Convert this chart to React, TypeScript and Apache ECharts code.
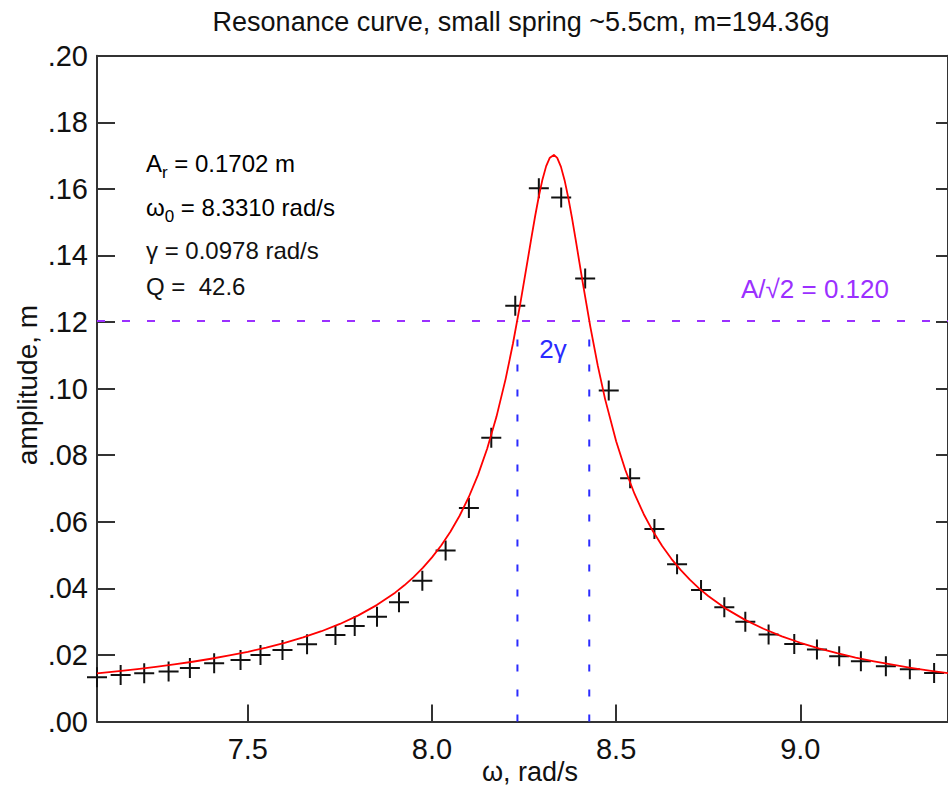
import React, { useEffect, useRef } from "react";
import * as echarts from "echarts";

// Measured data points (omega rad/s, amplitude m)
const omegaData = [7.0905, 7.1547, 7.2187, 7.2849, 7.3427, 7.4086, 7.4802, 7.5344, 7.5941, 7.6608, 7.7379, 7.7902, 7.8507, 7.9104, 7.9738, 8.037, 8.1002, 8.161, 8.2261, 8.2901, 8.3508, 8.4159, 8.4799, 8.538, 8.6039, 8.6654, 8.7305, 8.7937, 8.8507, 8.9139, 8.9836, 9.0452, 9.1056, 9.1645, 9.2323, 9.2974, 9.3633];
const ampData = [0.0133, 0.014, 0.0145, 0.015, 0.0161, 0.0175, 0.0185, 0.02, 0.0215, 0.0232, 0.026, 0.0287, 0.0315, 0.0358, 0.0423, 0.0514, 0.0641, 0.0852, 0.1249, 0.1602, 0.1574, 0.1331, 0.0994, 0.0731, 0.0578, 0.0472, 0.0395, 0.0343, 0.03, 0.0261, 0.0233, 0.0216, 0.0196, 0.0181, 0.0166, 0.0157, 0.0146];

// Fitted curve
const curveOmega = [7.0905, 7.15, 7.2, 7.25, 7.3, 7.35, 7.4, 7.45, 7.5, 7.55, 7.6, 7.65, 7.7, 7.75, 7.8, 7.85, 7.9, 7.925, 7.95, 7.975, 8.0, 8.025, 8.05, 8.075, 8.1, 8.125, 8.15, 8.175, 8.2, 8.22, 8.24, 8.26, 8.27, 8.28, 8.29, 8.3, 8.31, 8.32, 8.331, 8.34, 8.35, 8.36, 8.37, 8.38, 8.39, 8.4, 8.41, 8.43, 8.45, 8.47, 8.5, 8.525, 8.55, 8.575, 8.6, 8.625, 8.65, 8.675, 8.7, 8.725, 8.75, 8.8, 8.85, 8.9, 8.95, 9.0, 9.05, 9.1, 9.15, 9.2, 9.25, 9.3, 9.35, 9.401];
const curveAmp = [0.01445, 0.01513, 0.01574, 0.01641, 0.01714, 0.01795, 0.01885, 0.01984, 0.02095, 0.02221, 0.02362, 0.02525, 0.02712, 0.0293, 0.03188, 0.03496, 0.03871, 0.04091, 0.04337, 0.04614, 0.04929, 0.05288, 0.05702, 0.06181, 0.06744, 0.07409, 0.08201, 0.09151, 0.10293, 0.11362, 0.12568, 0.13873, 0.14535, 0.15177, 0.1577, 0.16284, 0.16683, 0.16937, 0.1702, 0.16929, 0.16668, 0.16261, 0.15738, 0.15134, 0.14482, 0.13809, 0.13138, 0.11854, 0.10697, 0.09684, 0.08417, 0.07554, 0.06834, 0.06227, 0.05712, 0.05269, 0.04887, 0.04553, 0.04259, 0.04, 0.03769, 0.03375, 0.03053, 0.02785, 0.02558, 0.02365, 0.02197, 0.02051, 0.01922, 0.01808, 0.01706, 0.01614, 0.01531, 0.01455];

const halfPowerAmp = 0.1203;
const halfPowerOmega = [8.232, 8.427];
const xRange = [7.0905, 9.401];
const yRange = [0, 0.2];
const xTickValues = [7.5, 8.0, 8.5, 9.0];

const titleText = "Resonance curve, small spring ~5.5cm, m=194.36g";

const FONT = "Liberation Sans, Arial, Helvetica, sans-serif";
const AXIS_COLOR = "#333";
const PURPLE = "#9b30ff";
const BLUE = "#2b2bff";

export default function App() {
  const ref = useRef<HTMLDivElement>(null);
  useEffect(() => {
    if (!ref.current) return;
    const chart = echarts.init(ref.current, null, { renderer: "svg" });
    const points = omegaData.map((w, i) => [w, ampData[i]]);
    const curve = curveOmega.map((w, i) => [w, curveAmp[i]]);
    const plus = "path://M9,0 H11 V9 H20 V11 H11 V20 H9 V11 H0 V9 H9 Z";
    const mainRich = { fontSize: 24, fontFamily: FONT, color: "#111", lineHeight: 36, verticalAlign: "middle" };
    const subRich = { fontSize: 17, fontFamily: FONT, color: "#111", lineHeight: 36, verticalAlign: "bottom" };
    chart.setOption({
      animation: false,
      backgroundColor: "#fff",
      grid: { left: 97, right: -1, top: 55.7, bottom: 71.5 },
      xAxis: [
        {
          type: "value",
          min: xRange[0],
          max: xRange[1],
          position: "bottom",
          axisLine: { show: true, onZero: false, lineStyle: { color: AXIS_COLOR, width: 2 } },
          axisTick: { show: true, inside: true, length: 17, customValues: xTickValues, lineStyle: { color: AXIS_COLOR, width: 2 } },
          axisLabel: {
            show: true,
            customValues: xTickValues,
            formatter: (v: number) => v.toFixed(1),
            fontSize: 29,
            fontFamily: FONT,
            color: "#111",
            margin: 13,
          },
          splitLine: { show: false },
        },
        {
          type: "value",
          min: xRange[0],
          max: xRange[1],
          position: "top",
          axisLine: { show: true, onZero: false, lineStyle: { color: AXIS_COLOR, width: 2 } },
          axisTick: { show: false },
          axisLabel: { show: false },
          splitLine: { show: false },
        },
      ],
      yAxis: [
        {
          type: "value",
          min: yRange[0],
          max: yRange[1],
          interval: 0.02,
          position: "left",
          axisLine: { show: true, onZero: false, lineStyle: { color: AXIS_COLOR, width: 2 } },
          axisTick: { show: true, inside: true, length: 18, lineStyle: { color: AXIS_COLOR, width: 2 } },
          axisLabel: {
            formatter: (v: number) => v.toFixed(2).replace(/^0/, ""),
            fontSize: 29,
            fontFamily: FONT,
            color: "#111",
            margin: 9,
          },
          splitLine: { show: false },
        },
        {
          type: "value",
          min: yRange[0],
          max: yRange[1],
          interval: 0.02,
          position: "right",
          axisLine: { show: true, onZero: false, lineStyle: { color: AXIS_COLOR, width: 2 } },
          axisTick: { show: true, inside: true, length: 12, lineStyle: { color: AXIS_COLOR, width: 2 } },
          axisLabel: { show: false },
          splitLine: { show: false },
        },
      ],
      series: [
        {
          type: "line",
          data: [[xRange[0], halfPowerAmp], [xRange[1], halfPowerAmp]],
          symbol: "none",
          lineStyle: { color: PURPLE, width: 1.8, type: [8, 17] },
          silent: true,
        },
        {
          type: "line",
          data: [[halfPowerOmega[0], 0], [halfPowerOmega[0], halfPowerAmp]],
          symbol: "none",
          lineStyle: { color: BLUE, width: 2, type: [7, 18] },
          silent: true,
        },
        {
          type: "line",
          data: [[halfPowerOmega[1], 0], [halfPowerOmega[1], halfPowerAmp]],
          symbol: "none",
          lineStyle: { color: BLUE, width: 2, type: [7, 18] },
          silent: true,
        },
        {
          type: "line",
          data: curve,
          symbol: "none",
          smooth: false,
          lineStyle: { color: "#ff0000", width: 1.8, join: "round" },
          silent: true,
        },
        {
          type: "scatter",
          data: points,
          symbol: plus,
          symbolSize: 20,
          itemStyle: { color: "#111", opacity: 1 },
          clip: false,
          silent: true,
        },
      ],
      graphic: [
        {
          type: "text",
          x: 521,
          y: 22,
          style: { text: titleText, fontSize: 27, fontFamily: FONT, fill: "#111", align: "center", verticalAlign: "middle" },
        },
        {
          type: "text",
          x: 530,
          y: 772,
          style: { text: "ω, rad/s", fontSize: 27, fontFamily: FONT, fill: "#111", align: "center", verticalAlign: "middle" },
        },
        {
          type: "text",
          x: 27,
          y: 385,
          rotation: Math.PI / 2,
          style: { text: "amplitude, m", fontSize: 28, fontFamily: FONT, fill: "#111", align: "center", verticalAlign: "middle" },
        },
        {
          type: "text",
          x: 146,
          y: 163,
          style: {
            text: "{a|A}{s|r}{a| = 0.1702 m}",
            align: "left",
            verticalAlign: "middle",
            rich: { a: mainRich, s: subRich },
          },
        },
        {
          type: "text",
          x: 146,
          y: 207,
          style: {
            text: "{a|ω}{s|0}{a| = 8.3310 rad/s}",
            align: "left",
            verticalAlign: "middle",
            rich: { a: mainRich, s: subRich },
          },
        },
        {
          type: "text",
          x: 146,
          y: 250,
          style: { text: "γ = 0.0978 rad/s", fontSize: 24, fontFamily: FONT, fill: "#111", align: "left", verticalAlign: "middle" },
        },
        {
          type: "text",
          x: 146,
          y: 286,
          style: { text: "Q =  42.6", fontSize: 24, fontFamily: FONT, fill: "#111", align: "left", verticalAlign: "middle" },
        },
        {
          type: "text",
          x: 815,
          y: 289,
          style: { text: "A/√2 = 0.120", fontSize: 26, fontFamily: FONT, fill: PURPLE, align: "center", verticalAlign: "middle" },
        },
        {
          type: "text",
          x: 553,
          y: 349,
          style: { text: "2γ", fontSize: 26, fontFamily: FONT, fill: BLUE, align: "center", verticalAlign: "middle" },
        },
      ],
    });
    return () => chart.dispose();
  }, []);
  return (
    <div
      ref={ref}
      style={{ position: "fixed", left: 0, top: 0, width: 948, height: 793, background: "#fff" }}
    />
  );
}
